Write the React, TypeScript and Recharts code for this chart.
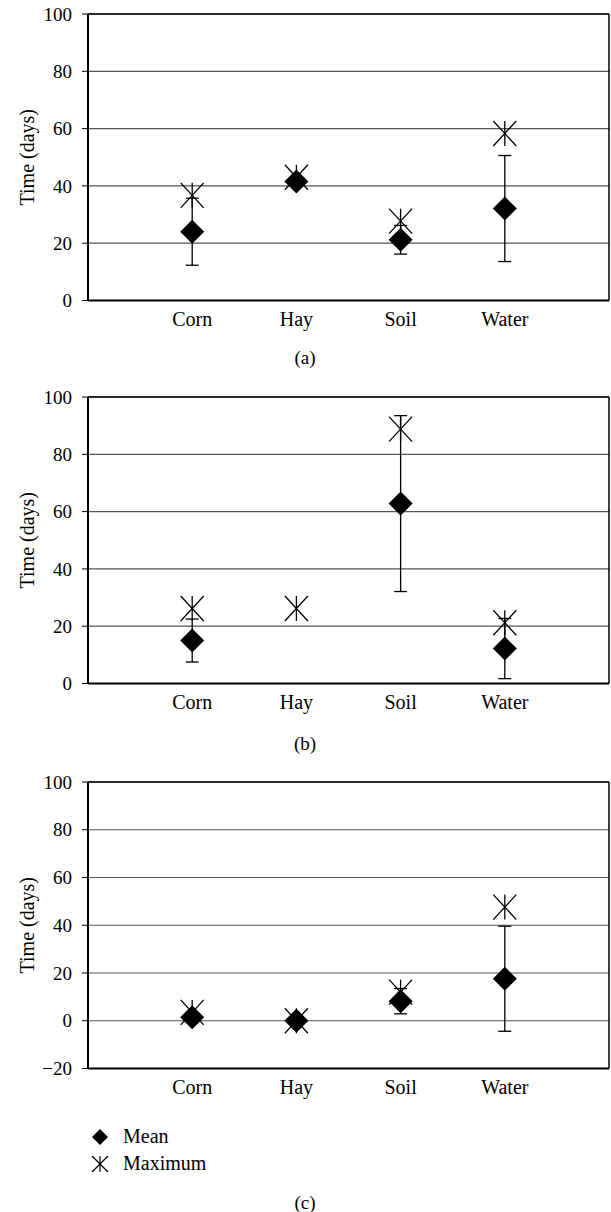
import React from 'react';
import { ComposedChart, Scatter, XAxis, YAxis, CartesianGrid, ErrorBar, ReferenceLine, Label } from 'recharts';

const categories = ['Corn', 'Hay', 'Soil', 'Water'];

const meanA: (number | null)[] = [24, 41.5, 21.2, 32.1];
const maxA: (number | null)[] = [36.7, 43, 27.7, 58.3];
const errA: (number | null)[] = [11.7, 1.5, 5, 18.5];

const meanB: (number | null)[] = [15, null, 62.8, 12.2];
const maxB: (number | null)[] = [26.2, 26.2, 88.8, 21.2];
const errB: (number | null)[] = [7.5, null, 30.7, 10.5];

const meanC: (number | null)[] = [1.5, 0, 8.2, 17.6];
const maxC: (number | null)[] = [3.5, 0, 12, 47.6];
const errC: (number | null)[] = [1, 0, 5.3, 22];

const ticksAB = [0, 20, 40, 60, 80, 100];
const ticksC = [-20, 0, 20, 40, 60, 80, 100];
const legendLabels = ['Mean', 'Maximum'];
const panelLabels = ['(a)', '(b)', '(c)'];
const yAxisTitle = 'Time (days)';

const FONT = '"Liberation Serif", "DejaVu Serif", serif';
const FS_TICK = 19;
const FS_TEXT = 20;
const PLOT_H = 286.5;

const Diamond = (props: any) => {
  const { cx, cy } = props;
  if (cx == null || cy == null || isNaN(cy)) return null;
  const h = 12;
  return <path d={`M${cx},${cy - h} L${cx + h},${cy} L${cx},${cy + h} L${cx - h},${cy} Z`} fill="#000" />;
};

const Star = (props: any) => {
  const { cx, cy } = props;
  if (cx == null || cy == null || isNaN(cy)) return null;
  const w = 11.5;
  const h = 12.5;
  return (
    <g stroke="#000" strokeWidth={1.3} fill="none">
      <line x1={cx - w} y1={cy - h} x2={cx + w} y2={cy + h} />
      <line x1={cx - w} y1={cy + h} x2={cx + w} y2={cy - h} />
      <line x1={cx} y1={cy - h} x2={cx} y2={cy + h} />
    </g>
  );
};

const fmt = (v: number) => (v < 0 ? '\u2212' + Math.abs(v) : String(v));

type PanelProps = {
  mean: (number | null)[];
  max: (number | null)[];
  err: (number | null)[];
  ticks: number[];
  top: number;
};

const Panel = ({ mean, max, err, ticks, top }: PanelProps) => {
  const rows = categories.map((c, i) => ({ x: i + 1, name: c, mean: mean[i], max: max[i], err: err[i] }));
  const meanRows = rows.filter((r) => r.mean != null);
  const maxRows = rows.filter((r) => r.max != null);
  const height = 340;
  const yMin = ticks[0];
  const yMax = ticks[ticks.length - 1];
  const YLabel = (p: any) => {
    const vb = p.viewBox;
    const cy = vb && vb.height ? vb.y + vb.height / 2 : 14 + PLOT_H / 2;
    return (
      <text x={27} y={cy} transform={`rotate(-90, 27, ${cy})`} textAnchor="middle" dominantBaseline="central"
        fontFamily={FONT} fontSize={FS_TEXT} fill="#000" style={{ fill: '#000' }}>{yAxisTitle}</text>
    );
  };
  return (
    <div style={{ position: 'absolute', left: 0, top }}>
      <ComposedChart width={611} height={height} data={rows}
        margin={{ top: 14, right: 2, left: 0, bottom: height - 14 - PLOT_H - 30 }}>
        <CartesianGrid horizontal vertical={false} stroke="#555" strokeWidth={1.2} />
        <XAxis type="number" dataKey="x" domain={[0, 5]} ticks={[1, 2, 3, 4]} allowDecimals={false}
          tickFormatter={(v: number) => categories[v - 1] ?? ''} tickLine={false} tickSize={6} tickMargin={5.5}
          axisLine={{ stroke: '#000', strokeWidth: 2 }} height={30}
          tick={{ fontFamily: FONT, fontSize: FS_TEXT, fill: '#000' }} />
        <YAxis type="number" domain={[yMin, yMax]} ticks={ticks} width={88} interval={0}
          tickFormatter={fmt} tickSize={6} tickMargin={10}
          tickLine={{ stroke: '#000', strokeWidth: 1 }} axisLine={{ stroke: '#000', strokeWidth: 2 }}
          tick={{ fontFamily: FONT, fontSize: FS_TICK, fill: '#000' }}>
          <Label content={YLabel} />
        </YAxis>
        <ReferenceLine y={yMax} stroke="#000" strokeWidth={1.5} />
        <ReferenceLine x={5} stroke="#000" strokeWidth={1.5} />
        <Scatter data={maxRows} dataKey="max" shape={<Star />} isAnimationActive={false} />
        <Scatter data={meanRows} dataKey="mean" shape={<Diamond />} isAnimationActive={false}>
          <ErrorBar dataKey="err" direction="y" width={6.5} stroke="#000" strokeWidth={1.3} />
        </Scatter>
      </ComposedChart>
    </div>
  );
};

const Caption = ({ text, y }: { text: string; y: number }) => (
  <div style={{ position: 'absolute', left: 255, width: 100, top: y - 12, textAlign: 'center', fontFamily: FONT, fontSize: 19, lineHeight: '24px', color: '#000' }}>
    {text}
  </div>
);

const LegendBlock = () => (
  <div style={{ position: 'absolute', left: 88, top: 1123, fontFamily: FONT, fontSize: FS_TEXT, color: '#000' }}>
    <div style={{ display: 'flex', alignItems: 'center', height: 27 }}>
      <svg width={24} height={24} style={{ marginRight: 11 }}>
        <path d="M12,4 L20,12 L12,20 L4,12 Z" fill="#000" />
      </svg>
      <span>{legendLabels[0]}</span>
    </div>
    <div style={{ display: 'flex', alignItems: 'center', height: 27 }}>
      <svg width={24} height={24} style={{ marginRight: 11 }}>
        <g stroke="#000" strokeWidth={1.2}>
          <line x1={4} y1={4} x2={20} y2={20} />
          <line x1={4} y1={20} x2={20} y2={4} />
          <line x1={12} y1={4} x2={12} y2={20} />
        </g>
      </svg>
      <span>{legendLabels[1]}</span>
    </div>
  </div>
);

export default function App() {
  return (
    <div style={{ position: 'absolute', left: 0, top: 0, width: 611, height: 1212, background: '#fff' }}>
      <Panel mean={meanA} max={maxA} err={errA} ticks={ticksAB} top={0} />
      <Caption text={panelLabels[0]} y={358} />
      <Panel mean={meanB} max={maxB} err={errB} ticks={ticksAB} top={382.7} />
      <Caption text={panelLabels[1]} y={744} />
      <Panel mean={meanC} max={maxC} err={errC} ticks={ticksC} top={768} />
      <LegendBlock />
      <Caption text={panelLabels[2]} y={1203} />
    </div>
  );
}
